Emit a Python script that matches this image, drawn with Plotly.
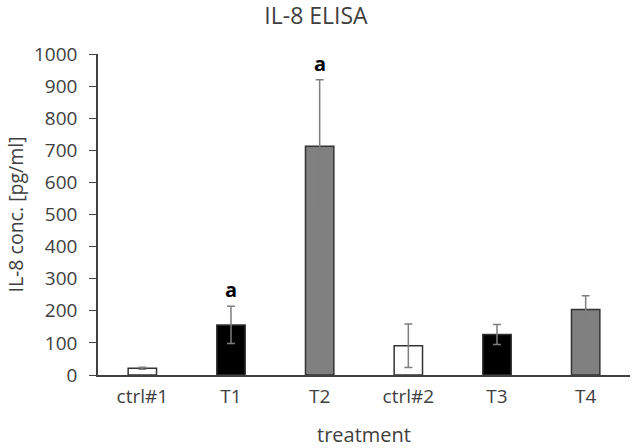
import plotly.graph_objects as go

# values
treatments = ["ctrl#1", "T1", "T2", "ctrl#2", "T3", "T4"]
conc = [21, 156, 713, 91, 126, 204]
err = [3, 58, 207, 68, 31, 43]
fills = ["#FFFFFF", "#000000", "#808080", "#FFFFFF", "#000000", "#808080"]
sig_labels = ["", "a", "a", "", "", ""]

INK = "#404040"
FONT = "Open Sans, Liberation Sans, sans-serif"

fig = go.Figure(go.Bar(
    x=treatments,
    y=conc,
    width=0.32,
    marker=dict(color=fills, line=dict(color="#333333", width=1.5)),
    error_y=dict(type="data", array=err, visible=True,
                 color="#7F7F7F", thickness=1.5, width=4),
    hovertemplate="<b>%{x}</b><br>%{y} pg/ml<extra></extra>",
))

for t, v, e, s in zip(treatments, conc, err, sig_labels):
    if s:
        fig.add_annotation(x=t, y=v + e, text=f"<b>{s}</b>", showarrow=False,
                           yanchor="bottom", yshift=1,
                           font=dict(family=FONT, size=20, color="#000000"))

fig.update_layout(
    width=632, height=448,
    font=dict(family=FONT, size=18, color=INK),
    plot_bgcolor="white", paper_bgcolor="white",
    margin=dict(l=98, r=2, t=54, b=73),
    title=dict(text="IL-8 ELISA", x=0.5, xanchor="center",
               y=1 - 16 / 448, yanchor="middle",
               font=dict(family=FONT, size=23, color=INK)),
    showlegend=False,
)
fig.update_xaxes(
    showline=True, linecolor=INK, linewidth=1.5, ticks="",
    ticklabelstandoff=3,
    title=dict(text="treatment", standoff=22, font=dict(size=20)),
    tickfont=dict(family=FONT, size=19, color=INK),
)
fig.update_yaxes(
    range=[0, 1000], dtick=100, showgrid=False, zeroline=False,
    showline=True, linecolor=INK, linewidth=1.5,
    ticks="outside", ticklen=7, tickcolor=INK,
    ticklabelstandoff=8,
    title=dict(text="IL-8 conc. [pg/ml]", standoff=5, font=dict(size=19.5)),
    tickfont=dict(family=FONT, size=19, color=INK),
)

# drop the browser's default 8px body margin so the figure fills the window
fig.write_html("out.html", config={"displayModeBar": False},
               post_script="document.body.style.margin = '0';")
